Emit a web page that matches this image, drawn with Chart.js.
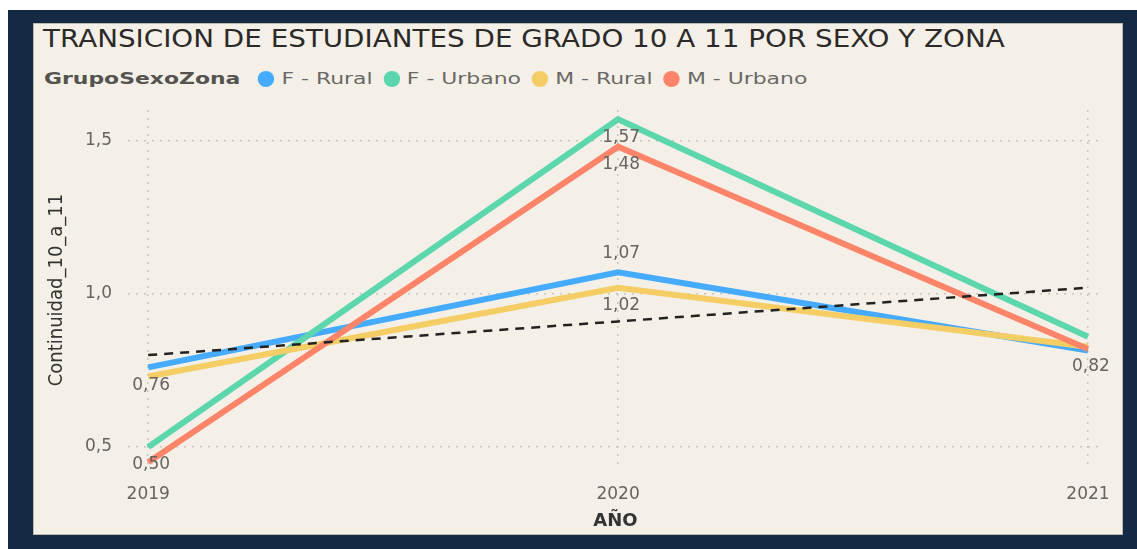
<!DOCTYPE html>
<html>
<head>
<meta charset="utf-8">
<script src="https://cdn.jsdelivr.net/npm/chart.js@4"></script>
<style>
    html, body { margin: 0; padding: 0; width: 1137px; height: 549px; overflow: hidden; background: #fff; }
    .frame { position: absolute; left: 8px; top: 10px; right: 0; bottom: 0; background: #132a42; }
    .panel { position: absolute; left: 33px; top: 23px; width: 1090px; height: 512px; background: #f4f0e8;
             border: 1px solid #bdb8ae; box-sizing: border-box; }
    .title { position: absolute; left: 43px; top: 25px; white-space: nowrap; color: #2b2a29;
             font-family: "DejaVu Sans", sans-serif; font-size: 24px; transform-origin: 0 0; }
    .legend { position: absolute; left: 44px; top: 69px; white-space: nowrap; display: flex; align-items: center;
              font-family: "DejaVu Sans", sans-serif; font-size: 16px; color: #6a6866; transform-origin: 0 50%; }
    .legend b { color: #555350; margin-right: 13px; }
    .legend .item { display: flex; align-items: center; margin-right: 8px; }
    .legend .dot { width: 12px; height: 16px; border-radius: 50%; margin-right: 5px; }
    .chart-box { position: absolute; left: 0; top: 0; width: 1137px; height: 549px; }
</style>
</head>
<body>
<div class="frame"></div>
<div class="panel"></div>
<div class="title" id="title">TRANSICION DE ESTUDIANTES DE GRADO 10 A 11 POR SEXO Y ZONA</div>
<div class="legend" id="legend"><b>GrupoSexoZona</b></div>
<div class="chart-box"><canvas id="chart"></canvas></div>

<script>
// data
var years = [2019, 2020, 2021];
var seriesNames = ['F - Rural', 'F - Urbano', 'M - Rural', 'M - Urbano'];
var fRural = [0.76, 1.07, 0.815];
var fUrbano = [0.50, 1.57, 0.86];
var mRural = [0.73, 1.02, 0.827];
var mUrbano = [0.45, 1.48, 0.82];
var trendValues = [0.80, 0.91, 1.02];
var yTicks = [0.5, 1.0, 1.5];

var seriesColors = ['#45abff', '#5cd6ac', '#f4cd64', '#fd8369'];
var allSeries = [fRural, fUrbano, mRural, mUrbano];

// which point gets a value label, and on which side
var labelPoints = [
    [0, 0, 'below'], [1, 0, 'below'],
    [1, 1, 'below'], [3, 1, 'below'], [0, 1, 'above'], [2, 1, 'below'],
    [3, 2, 'below']
];

var tickFont = { family: 'DejaVu Sans', size: 17 };
var gray = '#666461';

function toPoints(vals) {
    return years.map(function (yr, i) { return { x: yr, y: vals[i] }; });
}

// html legend
var legend = document.getElementById('legend');
seriesNames.forEach(function (name, i) {
    var item = document.createElement('span');
    item.className = 'item';
    item.innerHTML = '<span class="dot" style="background:' + seriesColors[i] + '"></span>' + name;
    legend.appendChild(item);
});

// the report font is wide; stretch title and legend to the same span
var title = document.getElementById('title');
title.style.transform = 'scaleX(' + (962 / title.offsetWidth) + ')';
legend.style.transform = 'scaleX(' + (774 / legend.offsetWidth) + ')';

var datasets = allSeries.map(function (vals, i) {
    return {
        label: seriesNames[i],
        data: toPoints(vals),
        borderColor: seriesColors[i],
        backgroundColor: seriesColors[i],
        borderWidth: 6,
        pointRadius: 0,
        tension: 0,
        order: 4 - i
    };
});
datasets.push({
    label: 'Tendencia',
    data: toPoints(trendValues),
    borderColor: '#222',
    borderWidth: 2.5,
    borderDash: [9, 7],
    pointRadius: 0,
    order: 0
});

var valueLabelPlugin = {
    id: 'valueLabels',
    afterDatasetsDraw: function (chart) {
        var ctx = chart.ctx;
        ctx.save();
        ctx.font = '17px "DejaVu Sans"';
        ctx.fillStyle = gray;
        ctx.textAlign = 'center';
        ctx.textBaseline = 'middle';
        labelPoints.forEach(function (lp) {
            var v = allSeries[lp[0]][lp[1]];
            var x = chart.scales.x.getPixelForValue(years[lp[1]]);
            var y = chart.scales.y.getPixelForValue(v) + (lp[2] === 'below' ? 18 : -19);
            ctx.fillText(v.toFixed(2).replace('.', ','), x + 3, y);
        });
        ctx.restore();
    }
};

new Chart(document.getElementById('chart'), {
    type: 'line',
    data: { datasets: datasets },
    plugins: [valueLabelPlugin],
    options: {
        responsive: true,
        maintainAspectRatio: false,
        animation: false,
        layout: { padding: { left: 45, right: 34, top: 110, bottom: 14 } },
        plugins: { legend: { display: false }, tooltip: { enabled: false } },
        scales: {
            x: {
                type: 'linear',
                min: 2018.957,
                max: 2021.032,
                afterBuildTicks: function (scale) {
                    scale.ticks = years.map(function (v) { return { value: v }; });
                },
                afterFit: function (scale) { scale.height = 65; },
                ticks: {
                    color: gray, font: tickFont, padding: 14,
                    callback: function (v) { return String(v); }
                },
                grid: { color: '#c9c5bd', lineWidth: 1.5, drawTicks: false },
                border: { display: false, dash: [2, 6] },
                title: {
                    display: true, text: 'AÑO', color: '#333',
                    font: { family: 'DejaVu Sans', size: 18, weight: 'bold' },
                    padding: { top: 0, bottom: 3 }
                }
            },
            y: {
                min: 0.425,
                max: 1.6,
                afterBuildTicks: function (scale) {
                    scale.ticks = yTicks.map(function (v) { return { value: v }; });
                },
                afterFit: function (scale) { scale.width = 83; },
                ticks: {
                    color: gray, font: tickFont, padding: 16,
                    callback: function (v) { return v.toFixed(1).replace('.', ','); }
                },
                grid: { color: '#c9c5bd', lineWidth: 1.5, drawTicks: false },
                border: { display: false, dash: [2, 6] },
                title: {
                    display: true, text: 'Continuidad_10_a_11', color: '#333',
                    font: { family: 'DejaVu Sans Condensed', size: 20 },
                    padding: { top: 0, bottom: 0 }
                }
            }
        }
    }
});
</script>
</body>
</html>
